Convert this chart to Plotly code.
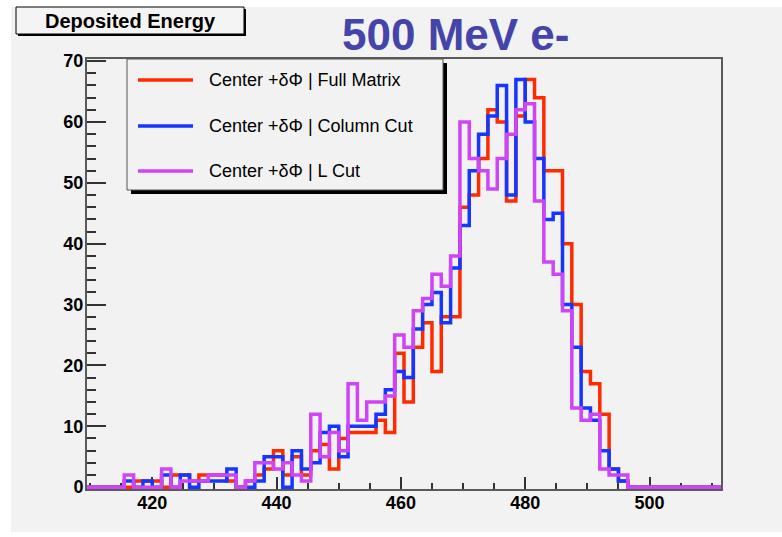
import plotly.graph_objects as go

# Histogram binning: 68 bins of 1.5 MeV from 409.5 to 511.5 MeV
bin_low = 409.5
bin_width = 1.5

series_names = [
    "Center +δΦ | Full Matrix",
    "Center +δΦ | Column Cut",
    "Center +δΦ | L Cut",
]
series_colors = ["#ff2b00", "#1436ff", "#cf45f5"]

full_matrix = [
    0, 0, 0, 0, 0, 1, 1, 1, 0, 2, 2, 1, 2, 2, 2, 1, 0, 1, 2, 3,
    6, 2, 5, 2, 6, 7, 3, 8, 9, 9, 9, 11, 9, 22, 14, 23, 27, 19, 28, 28,
    46, 48, 54, 62, 60, 47, 61, 67, 64, 52, 52, 40, 30, 19, 17, 12, 3, 1,
    0, 0, 0, 0, 0, 0, 0, 0, 0, 0,
]
column_cut = [
    0, 0, 0, 0, 1, 0, 1, 0, 2, 0, 2, 0, 1, 1, 1, 3, 0, 0, 1, 5,
    5, 0, 6, 3, 4, 9, 10, 5, 10, 10, 10, 12, 16, 19, 18, 26, 30, 32, 27, 36,
    43, 52, 58, 61, 66, 48, 67, 60, 54, 44, 45, 30, 23, 13, 11, 6, 3, 1,
    0, 0, 0, 0, 0, 0, 0, 0, 0, 0,
]
l_cut = [
    0, 0, 0, 0, 2, 0, 0, 0, 3, 0, 1, 1, 1, 2, 2, 2, 0, 1, 4, 4,
    3, 4, 2, 1, 12, 5, 9, 6, 17, 11, 14, 14, 15, 25, 23, 29, 31, 35, 33, 38,
    60, 54, 52, 49, 54, 58, 62, 63, 47, 37, 35, 29, 13, 11, 12, 3, 2, 2,
    0, 0, 0, 0, 0, 0, 0, 0, 0, 0,
]

x_ticks = [420, 440, 460, 480, 500]
y_ticks = [0, 10, 20, 30, 40, 50, 60, 70]

n_bins = len(full_matrix)
edges = [bin_low + bin_width * i for i in range(n_bins + 1)]
x_max = edges[-1]

# Page geometry (pixels) of the frame
W, H = 782, 537
PL, PR, PT, PB = 87, 721, 59, 489


def px_x(p):
    return (p - PL) / (PR - PL)


def px_y(p):
    return (PB - p) / (PB - PT)


BG = "#f2f2f2"
FONT = "Liberation Sans, Arial, Helvetica, sans-serif"

fig = go.Figure()
for name, color, counts in zip(series_names, series_colors,
                               [full_matrix, column_cut, l_cut]):
    fig.add_trace(go.Scatter(
        x=edges,
        y=counts + [counts[-1]],
        mode="lines",
        line=dict(color=color, width=3.5, shape="hv"),
        name=name,
        showlegend=False,
        hoverinfo="skip",
    ))

axis_font = dict(family=FONT, size=18, color="black", weight="bold")

fig.update_xaxes(
    range=[bin_low, x_max],
    tickmode="array", tickvals=x_ticks,
    ticks="inside", ticklen=12, tickwidth=1.5, tickcolor="#333333",
    minor=dict(dtick=5, tick0=400, ticks="inside", ticklen=6,
               tickwidth=1.5, tickcolor="#333333", showgrid=False),
    showline=True, linecolor="#5a5a5a", linewidth=2, mirror=True,
    showgrid=False, zeroline=False, layer="below traces",
    tickfont=axis_font, ticklabelstandoff=-4,
)
fig.update_yaxes(
    range=[-0.3, 70.35],
    tickmode="array", tickvals=y_ticks,
    ticks="inside", ticklen=19, tickwidth=1.5, tickcolor="#333333",
    minor=dict(dtick=2, tick0=0, ticks="inside", ticklen=9,
               tickwidth=1.5, tickcolor="#333333", showgrid=False),
    showline=True, linecolor="#5a5a5a", linewidth=2, mirror=True,
    showgrid=False, zeroline=False, layer="below traces",
    tickfont=axis_font, ticklabelstandoff=-2,
)

shapes = [
    # canvas
    dict(type="rect", xref="paper", yref="paper", layer="below",
         x0=px_x(11), x1=px_x(W + 2), y0=px_y(532), y1=px_y(7),
         fillcolor=BG, line=dict(width=0)),
    # title box with shadow
    dict(type="rect", xref="paper", yref="paper", layer="above",
         x0=px_x(18), x1=px_x(246), y0=px_y(36), y1=px_y(9),
         fillcolor="black", line=dict(width=0)),
    dict(type="rect", xref="paper", yref="paper", layer="above",
         x0=px_x(16), x1=px_x(244), y0=px_y(34), y1=px_y(7),
         fillcolor="#f4f4f4", line=dict(color="black", width=1)),
    # legend box with shadow
    dict(type="rect", xref="paper", yref="paper", layer="above",
         x0=px_x(131), x1=px_x(447), y0=px_y(194), y1=px_y(63),
         fillcolor="black", line=dict(width=0)),
    dict(type="rect", xref="paper", yref="paper", layer="above",
         x0=px_x(127), x1=px_x(443), y0=px_y(190), y1=px_y(59),
         fillcolor=BG, line=dict(color="#555555", width=1)),
]

annotations = [
    dict(text="Deposited Energy", xref="paper", yref="paper",
         x=px_x(130), y=px_y(21), xanchor="center", yanchor="middle",
         showarrow=False,
         font=dict(family=FONT, size=20, color="black", weight="bold")),
    dict(text="500 MeV e-", xref="paper", yref="paper",
         x=px_x(455), y=px_y(35), xanchor="center", yanchor="middle",
         showarrow=False,
         font=dict(family=FONT, size=44, color="#4444aa", weight="bold")),
]

legend_rows = [80, 126, 171]
for name, color, row in zip(series_names, series_colors, legend_rows):
    shapes.append(dict(type="line", xref="paper", yref="paper", layer="above",
                       x0=px_x(138), x1=px_x(193), y0=px_y(row), y1=px_y(row),
                       line=dict(color=color, width=3.5)))
    annotations.append(dict(text=name, xref="paper", yref="paper",
                            x=px_x(207), y=px_y(row), xanchor="left",
                            yanchor="middle", showarrow=False,
                            font=dict(family=FONT, size=18, color="black")))

fig.update_layout(
    width=W, height=H,
    margin=dict(l=PL, r=W - PR, t=PT, b=H - PB, pad=0),
    paper_bgcolor="white", plot_bgcolor=BG,
    shapes=shapes, annotations=annotations,
    showlegend=False,
)

fig.write_html("out.html")
